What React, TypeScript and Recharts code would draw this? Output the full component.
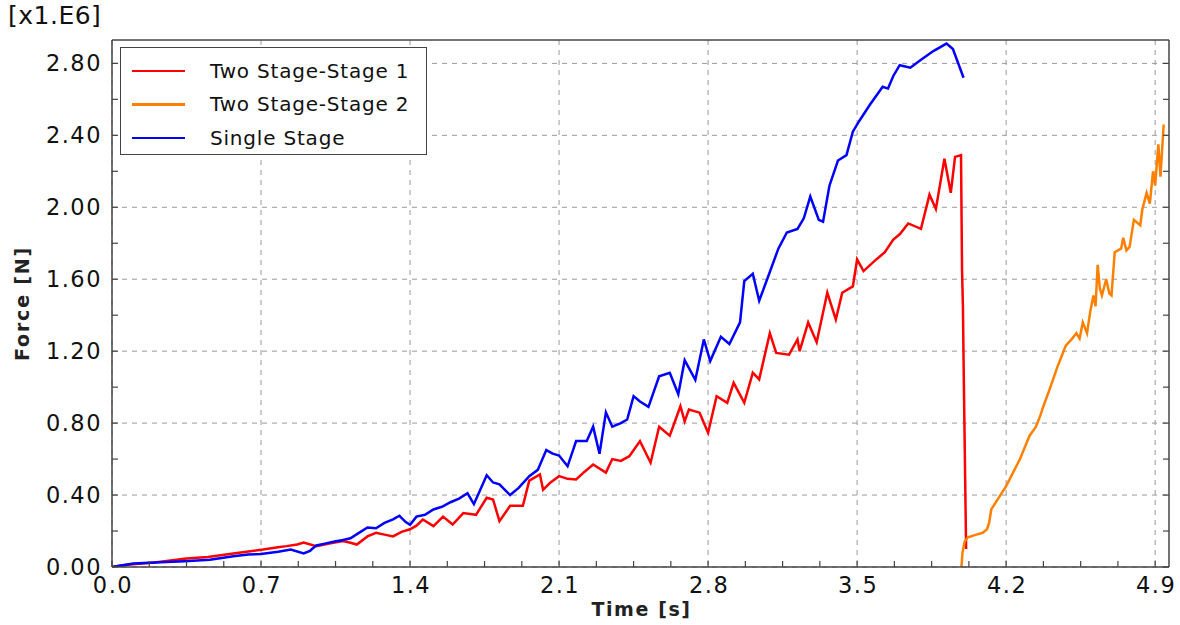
import { LineChart, Line, XAxis, YAxis, CartesianGrid, Legend } from 'recharts'

// Time [s] / Force [x1.E6 N]
const stage1: [number, number][] = [
  [0, 0], [0.05, 0.01], [0.1, 0.015], [0.2, 0.025], [0.35, 0.047], [0.45, 0.055], [0.57, 0.075],
  [0.71, 0.097], [0.78, 0.11], [0.82, 0.116], [0.87, 0.125], [0.9, 0.136], [0.96, 0.116], [1.02, 0.13],
  [1.085, 0.144], [1.12, 0.135], [1.15, 0.125], [1.2, 0.17], [1.24, 0.19], [1.28, 0.18], [1.32, 0.17],
  [1.36, 0.195], [1.4, 0.21], [1.43, 0.23], [1.46, 0.264], [1.51, 0.227], [1.555, 0.28], [1.6, 0.236],
  [1.65, 0.3], [1.71, 0.29], [1.76, 0.385], [1.79, 0.375], [1.82, 0.255], [1.87, 0.34], [1.93, 0.34],
  [1.96, 0.48], [2.01, 0.515], [2.025, 0.43], [2.06, 0.47], [2.1, 0.505], [2.14, 0.49], [2.18, 0.487],
  [2.22, 0.53], [2.26, 0.57], [2.32, 0.525], [2.35, 0.6], [2.39, 0.59], [2.43, 0.616], [2.48, 0.7],
  [2.53, 0.58], [2.57, 0.78], [2.62, 0.73], [2.67, 0.894], [2.69, 0.81], [2.71, 0.876], [2.76, 0.858],
  [2.8, 0.746], [2.84, 0.95], [2.89, 0.913], [2.92, 1.024], [2.97, 0.913], [3.01, 1.08], [3.04, 1.043],
  [3.09, 1.3], [3.12, 1.19], [3.18, 1.18], [3.22, 1.265], [3.23, 1.2], [3.27, 1.36], [3.31, 1.25],
  [3.36, 1.525], [3.4, 1.376], [3.43, 1.525], [3.48, 1.56], [3.5, 1.71], [3.53, 1.645], [3.59, 1.71],
  [3.63, 1.75], [3.67, 1.82], [3.7, 1.85], [3.74, 1.91], [3.8, 1.88], [3.84, 2.07], [3.87, 1.99],
  [3.91, 2.27], [3.94, 2.08], [3.96, 2.28], [3.988, 2.29], [3.993, 1.64], [3.997, 1.45], [4.0, 1.15],
  [4.012, 0.1],
]

const stage2: [number, number][] = [
  [3.99, 0], [3.995, 0.08], [4.005, 0.14], [4.02, 0.165], [4.06, 0.18], [4.09, 0.19], [4.11, 0.21],
  [4.12, 0.245], [4.13, 0.32], [4.155, 0.366], [4.2, 0.45], [4.265, 0.6], [4.31, 0.73], [4.34, 0.78],
  [4.36, 0.84], [4.375, 0.894], [4.405, 0.99], [4.44, 1.11], [4.48, 1.23], [4.51, 1.27], [4.53, 1.3],
  [4.545, 1.27], [4.56, 1.36], [4.58, 1.3], [4.595, 1.42], [4.61, 1.51], [4.62, 1.45], [4.63, 1.68],
  [4.64, 1.55], [4.65, 1.51], [4.67, 1.6], [4.685, 1.52], [4.695, 1.51], [4.71, 1.75], [4.74, 1.77],
  [4.75, 1.83], [4.765, 1.76], [4.78, 1.78], [4.8, 1.93], [4.83, 1.9], [4.84, 1.99], [4.86, 2.08],
  [4.875, 2.02], [4.89, 2.2], [4.9, 2.12], [4.915, 2.35], [4.925, 2.17], [4.94, 2.46],
]

const singleStage: [number, number][] = [
  [0, 0], [0.05, 0.01], [0.1, 0.02], [0.2, 0.025], [0.34, 0.032], [0.46, 0.04], [0.57, 0.06],
  [0.64, 0.07], [0.7, 0.072], [0.78, 0.085], [0.84, 0.097], [0.9, 0.075], [0.93, 0.09], [0.96, 0.12],
  [1.0, 0.13], [1.04, 0.14], [1.085, 0.15], [1.12, 0.16], [1.16, 0.19], [1.2, 0.22], [1.24, 0.215],
  [1.28, 0.245], [1.32, 0.265], [1.35, 0.285], [1.38, 0.25], [1.4, 0.235], [1.43, 0.28], [1.47, 0.29],
  [1.51, 0.32], [1.55, 0.335], [1.59, 0.36], [1.63, 0.38], [1.67, 0.41], [1.7, 0.35], [1.73, 0.43],
  [1.76, 0.51], [1.79, 0.47], [1.82, 0.46], [1.87, 0.4], [1.91, 0.44], [1.96, 0.505], [2.0, 0.54],
  [2.04, 0.65], [2.07, 0.63], [2.1, 0.62], [2.14, 0.56], [2.18, 0.7], [2.23, 0.7], [2.26, 0.78],
  [2.29, 0.63], [2.32, 0.86], [2.35, 0.78], [2.39, 0.8], [2.42, 0.82], [2.45, 0.95], [2.48, 0.92],
  [2.52, 0.89], [2.57, 1.06], [2.62, 1.08], [2.66, 0.96], [2.69, 1.15], [2.74, 1.04], [2.78, 1.265],
  [2.81, 1.145], [2.86, 1.28], [2.9, 1.24], [2.95, 1.36], [2.97, 1.59], [3.01, 1.63], [3.04, 1.48],
  [3.09, 1.64], [3.13, 1.77], [3.17, 1.86], [3.22, 1.88], [3.25, 1.94], [3.28, 2.06], [3.32, 1.93],
  [3.34, 1.92], [3.37, 2.12], [3.41, 2.26], [3.45, 2.29], [3.48, 2.42], [3.51, 2.48], [3.56, 2.57],
  [3.62, 2.67], [3.645, 2.66], [3.67, 2.73], [3.7, 2.79], [3.75, 2.776], [3.8, 2.82], [3.86, 2.87],
  [3.92, 2.91], [3.95, 2.88], [4.0, 2.72],
]

const xMajor = [0, 0.7, 1.4, 2.1, 2.8, 3.5, 4.2, 4.9]
const yMajor = [0, 0.4, 0.8, 1.2, 1.6, 2.0, 2.4, 2.8]

const series = [
  { name: 'Two Stage-Stage 1', color: '#ff0000', points: stage1 },
  { name: 'Two Stage-Stage 2', color: '#ff8000', points: stage2 },
  { name: 'Single Stage', color: '#0000ff', points: singleStage },
]

const xMinor = xMajor.slice(0, -1).flatMap((v) => [0, 1, 2, 3].map((k) => +(v + k * 0.175).toFixed(3))).concat(4.9)
const yMinor = yMajor.slice(0, -1).flatMap((v) => [v, +(v + 0.2).toFixed(1)]).concat(2.8)

const X_DOMAIN = [0, 4.965]
const Y_DOMAIN = [0, 2.93]
const FONT = '"DejaVu Sans", Verdana, sans-serif'
const AXIS = '#444'

const isMajor = (v: number, list: number[]) => list.some((m) => Math.abs(m - v) < 1e-6)

function BottomTick({ x, y, payload }: any) {
  const major = isMajor(payload.value, xMajor)
  return (
    <g>
      <line x1={x} y1={y} x2={x} y2={y - 6} stroke={AXIS} strokeWidth={1.2} />
      {major && (
        <text x={x + 1} y={y + 26} textAnchor="middle" fontSize={22.5} letterSpacing={1.5} fontFamily={FONT} fill="#111">
          {payload.value.toFixed(1)}
        </text>
      )}
    </g>
  )
}

function LeftTick({ x, y, payload }: any) {
  const major = isMajor(payload.value, yMajor)
  return (
    <g>
      <line x1={x} y1={y} x2={x + 6} y2={y} stroke={AXIS} strokeWidth={1.2} />
      {major && (
        <text x={x - 10} y={y + 8} textAnchor="end" fontSize={22.5} letterSpacing={1.5} fontFamily={FONT} fill="#111">
          {payload.value.toFixed(2)}
        </text>
      )}
    </g>
  )
}

const TopTick = ({ x, y }: any) => <line x1={x} y1={y} x2={x} y2={y + 6} stroke={AXIS} strokeWidth={1.2} />
const RightTick = ({ x, y }: any) => <line x1={x} y1={y} x2={x - 6} y2={y} stroke={AXIS} strokeWidth={1.2} />

function LegendBox() {
  return (
    <div style={{ width: 305, height: 106, border: '1.5px solid #444', background: '#fff', fontFamily: FONT, fontSize: 20, letterSpacing: 0.8, color: '#111' }}>
      {series.map((s) => (
        <div key={s.name} style={{ display: 'flex', alignItems: 'center', height: 33.5, marginTop: s === series[0] ? 6 : 0 }}>
          <span style={{ display: 'inline-block', width: 53, height: 2.5, background: s.color, marginLeft: 11, marginRight: 25 }} />
          <span>{s.name}</span>
        </div>
      ))}
    </div>
  )
}

export default function App() {
  return (
    <div style={{ position: 'absolute', left: 0, top: 0, width: 1180, height: 625, background: '#fff' }}>
      <div style={{ position: 'absolute', left: 8, top: 1, fontFamily: FONT, fontSize: 25, letterSpacing: 0.5, color: '#111' }}>[x1.E6]</div>
      <LineChart width={1180} height={625} margin={{ top: 39, right: 10, bottom: 57, left: 111 }}>
        <CartesianGrid
          xAxisId="b"
          yAxisId="l"
          verticalValues={xMajor}
          horizontalValues={yMajor}
          stroke="#9a9a9a"
          strokeDasharray="5 5"
        />
        <XAxis
          xAxisId="b"
          dataKey="0"
          type="number"
          domain={X_DOMAIN}
          ticks={xMinor}
          interval={0}
          allowDataOverflow
          height={1}
          tickSize={0}
          tickMargin={0}
          tick={<BottomTick />}
          axisLine={{ stroke: AXIS, strokeWidth: 1.5 }}
          label={({ viewBox }: any) => (
            <text x={viewBox.x + viewBox.width / 2 + 1} y={viewBox.y + 49} textAnchor="middle" fontSize={19} letterSpacing={1.6} fontWeight="bold" fontFamily={FONT} fill="#222">
              Time [s]
            </text>
          )}
        />
        <XAxis
          xAxisId="top"
          orientation="top"
          type="number"
          domain={X_DOMAIN}
          ticks={xMinor}
          interval={0}
          allowDataOverflow
          height={1}
          tickSize={0}
          tickMargin={0}
          tick={<TopTick />}
          axisLine={{ stroke: AXIS, strokeWidth: 1.5 }}
        />
        <YAxis
          yAxisId="l"
          type="number"
          domain={Y_DOMAIN}
          ticks={yMinor}
          interval={0}
          allowDataOverflow
          width={1}
          tickSize={0}
          tickMargin={0}
          tick={<LeftTick />}
          axisLine={{ stroke: AXIS, strokeWidth: 1.5 }}
          label={({ viewBox }: any) => {
            const cx = 22
            const cy = viewBox.y + viewBox.height / 2
            return (
              <text x={cx} y={cy} transform={`rotate(-90 ${cx} ${cy})`} textAnchor="middle" dominantBaseline="central" fontSize={19} letterSpacing={1.8} fontWeight="bold" fontFamily={FONT} fill="#222">
                Force [N]
              </text>
            )
          }}
        />
        <YAxis
          yAxisId="r"
          orientation="right"
          type="number"
          domain={Y_DOMAIN}
          ticks={yMinor}
          interval={0}
          allowDataOverflow
          width={1}
          tickSize={0}
          tickMargin={0}
          tick={<RightTick />}
          axisLine={{ stroke: AXIS, strokeWidth: 1.5 }}
        />
        {series.map((s) => (
          <Line
            key={s.name}
            xAxisId="b"
            yAxisId="l"
            data={s.points}
            dataKey="1"
            name={s.name}
            type="linear"
            stroke={s.color}
            strokeWidth={2.5}
            dot={false}
            isAnimationActive={false}
          />
        ))}
        <Legend
          layout="vertical"
          align="center"
          verticalAlign="middle"
          content={() => <LegendBox />}
          wrapperStyle={{ position: 'absolute', left: 120, top: 47, width: 'auto' }}
        />
      </LineChart>
    </div>
  )
}
